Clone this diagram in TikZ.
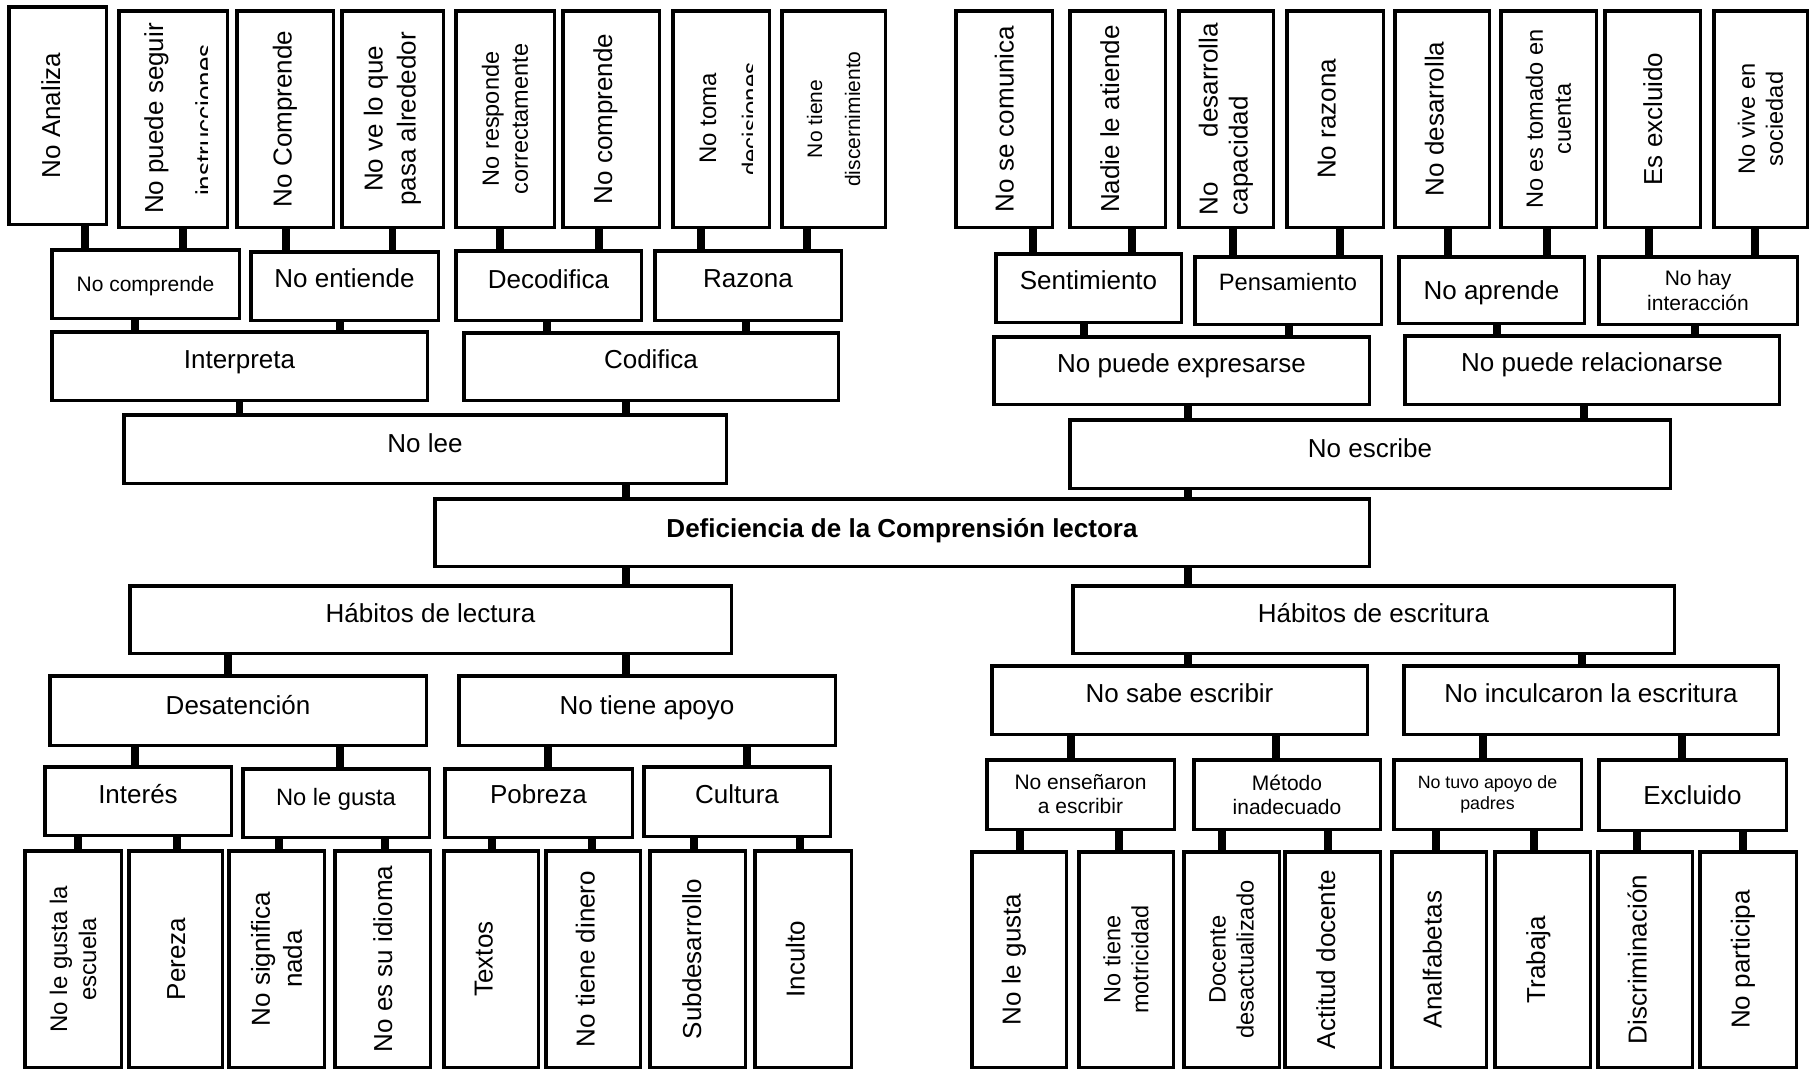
\documentclass[tikz,border=0pt]{standalone}
\usepackage{fontspec}
\setmainfont{Liberation Sans}
\newcommand\fsz[2]{\fontsize{#1pt}{#2pt}\selectfont}
\tikzset{
  box/.style={draw, line width=3.5pt, rectangle, inner sep=0pt, align=center, fill=white},
  conn/.style={line width=7.5pt},
  tup/.style={text height=19pt, text depth=#1pt},
  vt/.style={rotate=90, anchor=base},
}
\newcommand\HB[7]{\node[box, minimum width={(#4-#2-3.5)*1pt}, minimum height={(#5-#3-3.5)*1pt}, font=\fsz{26}{31}, #6] (#1) at ({(#2+#4)/2},{(#3+#5)/2}) {#7};}
\newcommand\VB[7]{\node[box, rotate=90, minimum width={(#5-#3-3.5)*1pt}, minimum height={(#4-#2-3.5)*1pt}, font=\fsz{26}{31}, #6] (#1) at ({(#2+#4)/2},{(#3+#5)/2}) {#7};}
\newcommand\cnx[3]{\draw[conn] ([xshift=#3pt]#1) -- ([xshift=#3pt]#1 |- #2);}
\begin{document}
\begin{tikzpicture}[x=1pt,y=-1pt]
\fill[white] (0,0) rectangle (1811,1071);
\useasboundingbox (0,0) rectangle (1811,1071);
% ---------- top left leaves
\VB{a1}{7}{5}{108}{226}{tup=14}{No Analiza}
\VB{a2}{117}{9}{229}{229}{}{}
\VB{a3}{235}{9}{335}{229}{tup=6}{No Comprende}
\VB{a4}{340}{9}{445}{229}{font=\fsz{26}{33}}{No ve lo que\\pasa alrededor}
\VB{a5}{454}{9}{556}{229}{font=\fsz{23.5}{29}}{No responde\\correctamente}
\VB{a6}{561}{9}{661}{229}{tup=17}{No comprende}
\VB{a7}{671}{9}{771}{229}{}{}
\VB{a8}{780}{9}{887}{229}{font=\fsz{21}{38}}{No tiene\\discernimiento}
\node[vt, font=\fsz{26}{31}] (a2t) at (163,118.5) {No puede seguir};
\begin{scope}
\clip (117,9) rectangle (207,229);
\node[vt, font=\fsz{26}{31}] (a2u) at (214,120) {instrucciones};
\end{scope}
\node[vt, font=\fsz{24}{29}] (a7t) at (716,118) {No toma};
\begin{scope}
\clip (671,9) rectangle (752,229);
\node[vt, font=\fsz{24}{29}] (a7u) at (759,119) {decisiones};
\end{scope}
% ---------- second / third row left
\HB{b1}{50}{248}{241}{320}{font=\fsz{21}{25}, text height=15pt, text depth=0pt}{No comprende}
\HB{b2}{249}{250}{440}{322}{tup=16}{No entiende}
\HB{b3}{454}{249}{643}{322}{tup=14}{Decodifica}
\HB{b4}{653}{249}{843}{322}{tup=16}{Razona}
\HB{c1}{50}{330}{429}{402}{tup=14}{Interpreta}
\HB{c2}{462}{331}{840}{402}{tup=15}{Codifica}
\HB{d1}{122}{413}{728}{485}{tup=12}{No lee}
% ---------- top right leaves
\VB{e1}{954}{9}{1054}{229}{tup=0}{No se comunica}
\VB{e2}{1068}{9}{1167}{229}{tup=16}{Nadie le atiende}
\VB{e3}{1177}{9}{1275}{229}{font=\fsz{26}{30}, align=left, text width=192pt}{No\hfill desarrolla\\capacidad}
\VB{e4}{1285}{9}{1385}{229}{tup=18}{No razona}
\VB{e5}{1393}{9}{1491}{229}{tup=16}{No desarrolla}
\VB{e6}{1499}{9}{1598}{229}{font=\fsz{23.6}{28}}{No es tomado en\\cuenta}
\VB{e7}{1603}{9}{1702}{229}{tup=0}{Es excluido}
\VB{e8}{1712}{9}{1809}{229}{font=\fsz{23.6}{28}}{No vive en\\sociedad}
% ---------- second / third row right
\HB{f1}{994}{252}{1183}{324}{tup=16}{Sentimiento}
\HB{f2}{1193}{255}{1383}{326}{font=\fsz{23.7}{28}, text height=17.5pt, text depth=18.5pt}{Pensamiento}
\HB{f3}{1397}{255}{1586}{325}{tup=0}{No aprende}
\HB{f4}{1597}{255}{1799}{326}{font=\fsz{21}{24.3}}{No hay\\interacción}
\HB{g1}{992}{335}{1371}{406}{tup=16}{No puede expresarse}
\HB{g2}{1403}{334}{1781}{406}{tup=16}{No puede relacionarse}
\HB{h1}{1068}{418}{1672}{490}{tup=12}{No escribe}
% ---------- centre
\HB{z}{433}{497}{1371}{568}{font=\fsz{26}{31}\bfseries, tup=10}{Deficiencia de la Comprensión lectora}
% ---------- lower levels
\HB{i1}{128}{584}{733}{655}{tup=14}{Hábitos de lectura}
\HB{i2}{1071}{584}{1676}{655}{tup=14}{Hábitos de escritura}
\HB{j1}{48}{674}{428}{747}{tup=12}{Desatención}
\HB{j2}{457}{674}{837}{747}{tup=12}{No tiene apoyo}
\HB{j3}{990}{664}{1369}{736}{tup=14}{No sabe escribir}
\HB{j4}{1402}{664}{1780}{736}{tup=14}{No inculcaron la escritura}
\HB{k1}{43}{765}{233}{837}{tup=14}{Interés}
\HB{k2}{241}{767}{431}{839}{font=\fsz{23.7}{28}, text height=17.5pt, text depth=12.5pt}{No le gusta}
\HB{k3}{443}{767}{634}{839}{tup=18}{Pobreza}
\HB{k4}{642}{765}{832}{838}{tup=15}{Cultura}
\HB{k5}{985}{758}{1176}{831}{font=\fsz{21}{24}}{No enseñaron\\a escribir}
\HB{k6}{1192}{758}{1382}{831}{font=\fsz{21}{24}}{Método\\inadecuado}
\HB{k7}{1392}{758}{1583}{831}{font=\fsz{17.8}{21}}{No tuvo apoyo de\\padres}
\HB{k8}{1597}{758}{1788}{832}{tup=0}{Excluido}
% ---------- bottom leaves
\VB{l1}{23}{849}{123}{1069}{font=\fsz{24}{29}}{No le gusta la\\escuela}
\VB{l2}{127}{849}{224}{1069}{tup=0}{Pereza}
\VB{l3}{227}{849}{326}{1069}{font=\fsz{26}{32}}{No significa\\nada}
\VB{l4}{333}{849}{432}{1069}{tup=0}{No es su idioma}
\VB{l5}{442}{849}{540}{1069}{tup=16}{Textos}
\VB{l6}{544}{849}{642}{1069}{tup=16}{No tiene dinero}
\VB{l7}{648}{849}{747}{1069}{tup=12}{Subdesarrollo}
\VB{l8}{753}{849}{853}{1069}{tup=16}{Inculto}
\VB{m1}{970}{850}{1068}{1069}{tup=16}{No le gusta}
\VB{m2}{1077}{850}{1175}{1069}{font=\fsz{23.5}{28}}{No tiene\\motricidad}
\VB{m3}{1182}{850}{1281}{1069}{font=\fsz{23.7}{28}}{Docente\\desactualizado}
\VB{m4}{1283}{850}{1382}{1069}{tup=14}{Actitud docente}
\VB{m5}{1390}{850}{1488}{1069}{tup=14}{Analfabetas}
\VB{m6}{1493}{850}{1592}{1069}{tup=14}{Trabaja}
\VB{m7}{1596}{850}{1694}{1069}{tup=16}{Discriminación}
\VB{m8}{1698}{850}{1798}{1069}{tup=16}{No participa}
% ---------- connectors, top left
\cnx{a1.west}{b1.north}{27.5}
\cnx{a2.west}{b1.north}{10}
\cnx{a3.west}{b2.north}{1}
\cnx{a4.west}{b2.north}{0}
\cnx{a5.west}{b3.north}{-5}
\cnx{a6.west}{b3.north}{-12}
\cnx{a7.west}{b4.north}{-20}
\cnx{a8.west}{b4.north}{-26.5}
\cnx{b1.south}{c1.north}{-10.5}
\cnx{b2.south}{c1.north}{-4.5}
\cnx{b3.south}{c2.north}{-1.5}
\cnx{b4.south}{c2.north}{-2}
\cnx{c1.south}{d1.north}{0}
\cnx{c2.south}{d1.north}{-25}
\cnx{d1.south}{z.north}{201}
% ---------- connectors, top right
\cnx{e1.west}{f1.north}{29}
\cnx{e2.west}{f1.north}{14.5}
\cnx{e3.west}{f2.north}{7}
\cnx{e4.west}{f2.north}{5}
\cnx{e5.west}{f3.north}{6}
\cnx{e6.west}{f3.north}{-1.5}
\cnx{e7.west}{f4.north}{-3.5}
\cnx{e8.west}{f4.north}{-5.5}
\cnx{f1.south}{g1.north}{-4.5}
\cnx{f2.south}{g1.north}{1}
\cnx{f3.south}{g2.north}{5.5}
\cnx{f4.south}{g2.north}{-3}
\cnx{g1.south}{h1.north}{6.5}
\cnx{g2.south}{h1.north}{-8}
\cnx{h1.south}{z.north}{-182}
% ---------- connectors, lower half
\cnx{i1.north}{z.south}{195.5}
\cnx{i2.north}{z.south}{-185.5}
\cnx{j1.north}{i1.south}{-10}
\cnx{j2.north}{i1.south}{-21}
\cnx{j3.north}{i2.south}{8.5}
\cnx{j4.north}{i2.south}{-9}
\cnx{k1.north}{j1.south}{-3}
\cnx{k2.north}{j1.south}{4}
\cnx{k3.north}{j2.south}{9.5}
\cnx{k4.north}{j2.south}{10}
\cnx{k5.north}{j3.south}{-9.5}
\cnx{k6.north}{j3.south}{-11}
\cnx{k7.north}{j4.south}{-4.5}
\cnx{k8.north}{j4.south}{-10.5}
\cnx{l1.east}{k1.south}{5}
\cnx{l2.east}{k1.south}{1.5}
\cnx{l3.east}{k2.south}{2.5}
\cnx{l4.east}{k2.south}{2.5}
\cnx{l5.east}{k3.south}{1}
\cnx{l6.east}{k3.south}{-1}
\cnx{l7.east}{k4.south}{-3.5}
\cnx{l8.east}{k4.south}{-3}
\cnx{m1.east}{k5.south}{1}
\cnx{m2.east}{k5.south}{-7}
\cnx{m3.east}{k6.south}{-9.5}
\cnx{m4.east}{k6.south}{-4.5}
\cnx{m5.east}{k7.south}{-3}
\cnx{m6.east}{k7.south}{-8.5}
\cnx{m7.east}{k8.south}{-8}
\cnx{m8.east}{k8.south}{-5}
\end{tikzpicture}
\end{document}
